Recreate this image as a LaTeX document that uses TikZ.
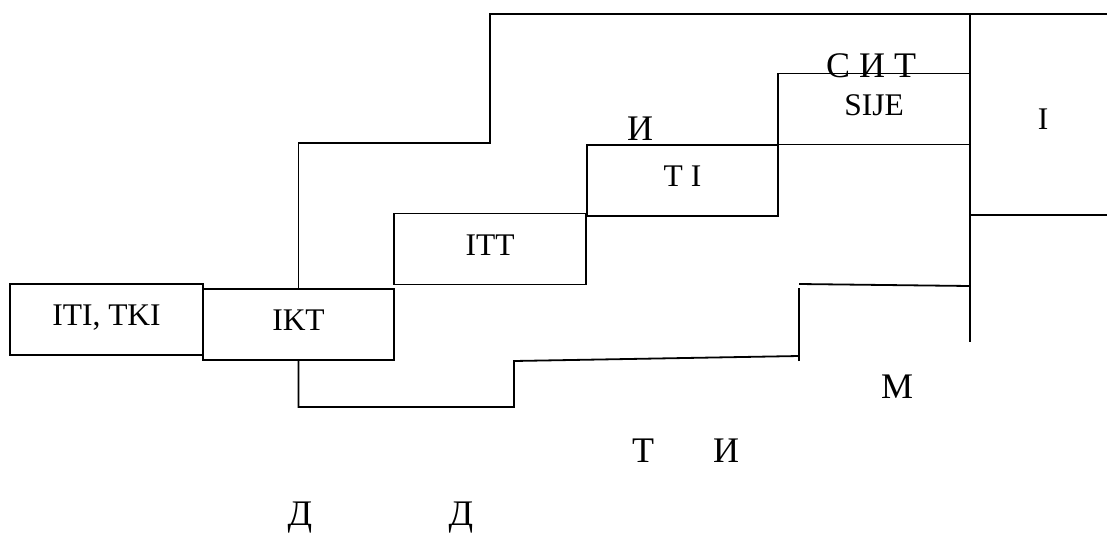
\documentclass[tikz,border=0pt]{standalone}
\usepackage{fontspec}
\setmainfont{Liberation Serif}
\usepackage{tikz}

\tikzset{
  box/.style={draw, minimum width=192pt, minimum height=71pt, inner sep=0pt,
    font=\fontsize{31.5}{36}\selectfont, text height=22pt, text depth=10pt},
  word/.style={anchor=base, inner sep=0pt, font=\fontsize{31.5}{36}\selectfont},
  letter/.style={anchor=base, inner sep=0pt, font=\fontsize{36}{40}\selectfont},
}

\begin{document}
\begin{tikzpicture}[x=1pt, y=-1pt, line width=1.8pt]
        \useasboundingbox (0,0) rectangle (1107,533);

        \node[box, minimum width=193pt] (1) at (106.5,319.5) {ITI, TKI};
        \node[box, minimum width=191pt] (2) at (298.5,324.5) {IKT};
        \node[box] (3) at (490,249) {ITT};
        \node[box, minimum width=191pt] (4) at (682.5,180.5) {T I};
        \node[box] (5) at (874,109) {SIJE};

        \coordinate (6) at (490,143);
        \coordinate (7) at (490,14);
        \coordinate (8) at (1107,14);
        \coordinate (9) at (970,14);
        \coordinate (10) at (970,342);
        \coordinate (11) at (1107,215);
        \coordinate (12) at (514,407);
        \coordinate (13) at (514,361);
        \coordinate (14) at (799,356);
        \coordinate (15) at (799,361);
        \coordinate (16) at (799,288);
        \coordinate (17) at (799,284);
        \coordinate (18) at (970,286);

        \draw (2.north) |- (6) -- (7) -- (8);
        \draw (9) -- (10);
        \draw (11) -- (11 -| 9);
        \draw (2.south) |- (12) -- (13) -- (14);
        \draw (15) -- (16);
        \draw (17) -- (18);

        \node[word] (19) at (1043,129) {I};
        \node[letter] (20) at (871,77) {С И Т};
        \node[letter] (21) at (640,140) {И};
        \node[letter] (22) at (897,398) {М};
        \node[letter] (23) at (643,462) {Т};
        \node[letter] (24) at (726,462) {И};
        \node[letter] (25) at (300,525) {Д};
        \node[letter] (26) at (461,525) {Д};
    \end{tikzpicture}
\end{document}
